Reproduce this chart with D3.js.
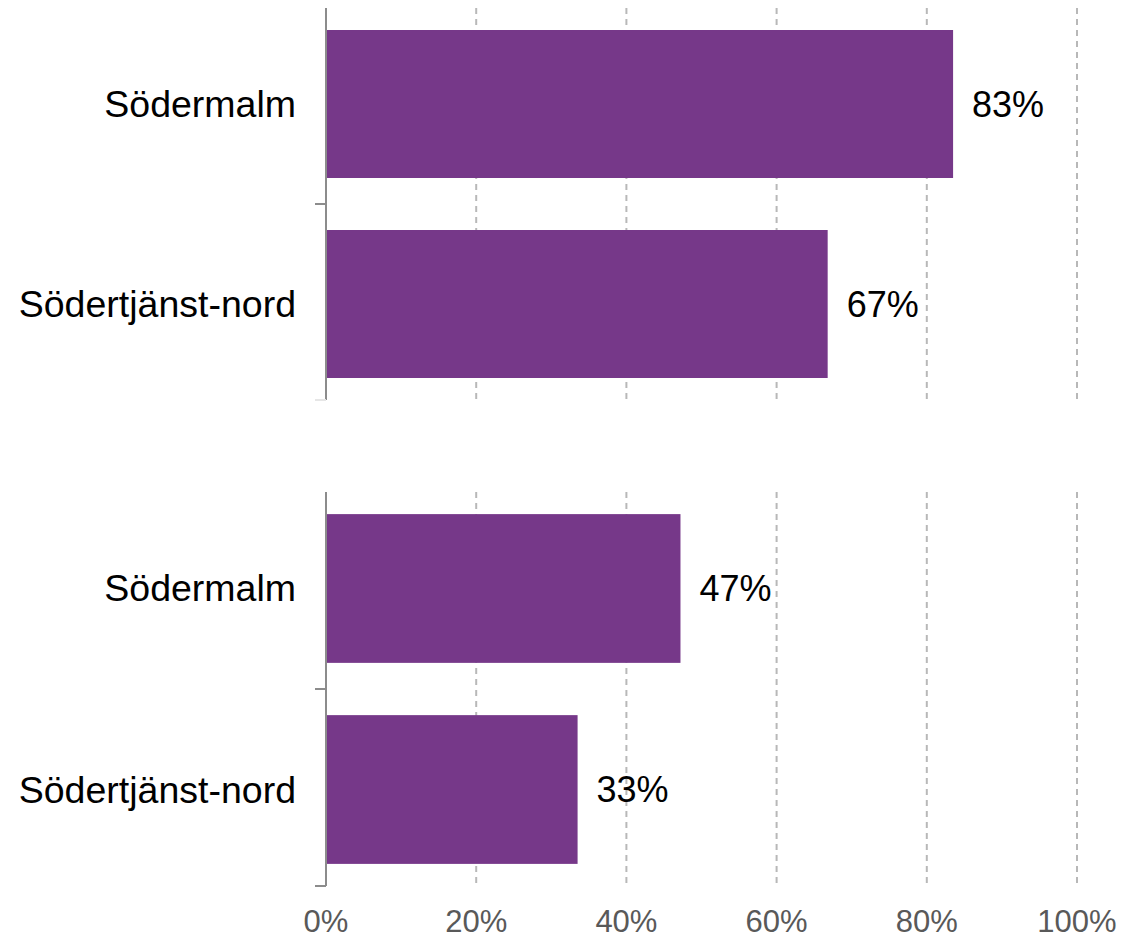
<!DOCTYPE html>
<html><head><meta charset="utf-8">
<script src="https://cdn.jsdelivr.net/npm/d3@7"></script>
<style>body{margin:0;background:#fff}</style>
</head><body>
<svg id="c" width="1135" height="939"></svg>
<script>
const categories = ["Södermalm", "Södertjänst-nord"];
const panel1Values = [83.5, 66.8];
const panel2Values = [47.2, 33.5];
const valueLabels1 = ["83%", "67%"];
const valueLabels2 = ["47%", "33%"];
const xTicks = [0, 20, 40, 60, 80, 100];

const svg = d3.select("#c");
const x = d3.scaleLinear().domain([0, 100]).range([326, 1077]);
const font = "Arial, 'Liberation Sans', sans-serif";
const purple = "#763889";

const panels = [
  {vals: panel1Values, labels: valueLabels1, top: 8, bottom: 400},
  {vals: panel2Values, labels: valueLabels2, top: 492, bottom: 886}
];

panels.forEach((p, pi) => {
  const y = d3.scaleBand().domain(categories).range([p.top, p.bottom]).paddingInner(0.26).paddingOuter(0.11);
  const g = svg.append("g");
  g.selectAll("line.grid").data(xTicks.slice(1)).join("line")
    .attr("x1", d => x(d)).attr("x2", d => x(d))
    .attr("y1", p.top).attr("y2", p.bottom)
    .attr("stroke", "#b8b8b8").attr("stroke-width", 2).attr("stroke-dasharray", "6,5");
  g.selectAll("rect").data(p.vals).join("rect")
    .attr("x", x(0)).attr("y", (d, i) => y(categories[i]))
    .attr("width", d => x(d) - x(0)).attr("height", y.bandwidth())
    .attr("fill", purple);
  g.append("line").attr("x1", x(0)).attr("x2", x(0)).attr("y1", p.top).attr("y2", p.bottom)
    .attr("stroke", "#8c8c8c").attr("stroke-width", 2);
  const mid = (y(categories[0]) + y.bandwidth() + y(categories[1])) / 2;
  [mid, p.bottom].forEach((ty, k) => {
    g.append("line").attr("x1", x(0) - 11).attr("x2", x(0)).attr("y1", ty).attr("y2", ty)
      .attr("stroke", pi === 0 && k === 1 ? "#e6e6e6" : "#8c8c8c").attr("stroke-width", 2);
  });
  g.selectAll("text.cat").data(categories).join("text")
    .attr("x", 296).attr("y", d => y(d) + y.bandwidth() / 2)
    .attr("text-anchor", "end").attr("dominant-baseline", "central")
    .attr("font-family", font).attr("font-size", 37.5).attr("fill", "#000")
    .text(d => d);
  g.selectAll("text.val").data(p.vals).join("text")
    .attr("x", d => x(d) + 19).attr("y", (d, i) => y(categories[i]) + y.bandwidth() / 2)
    .attr("dominant-baseline", "central")
    .attr("font-family", font).attr("font-size", 36).attr("fill", "#000")
    .text((d, i) => p.labels[i]);
});

svg.selectAll("text.xt").data(xTicks).join("text")
  .attr("x", d => x(d)).attr("y", 932)
  .attr("text-anchor", "middle")
  .attr("font-family", font).attr("font-size", 31).attr("fill", "#595959")
  .text(d => d + "%");
</script>
</body></html>
